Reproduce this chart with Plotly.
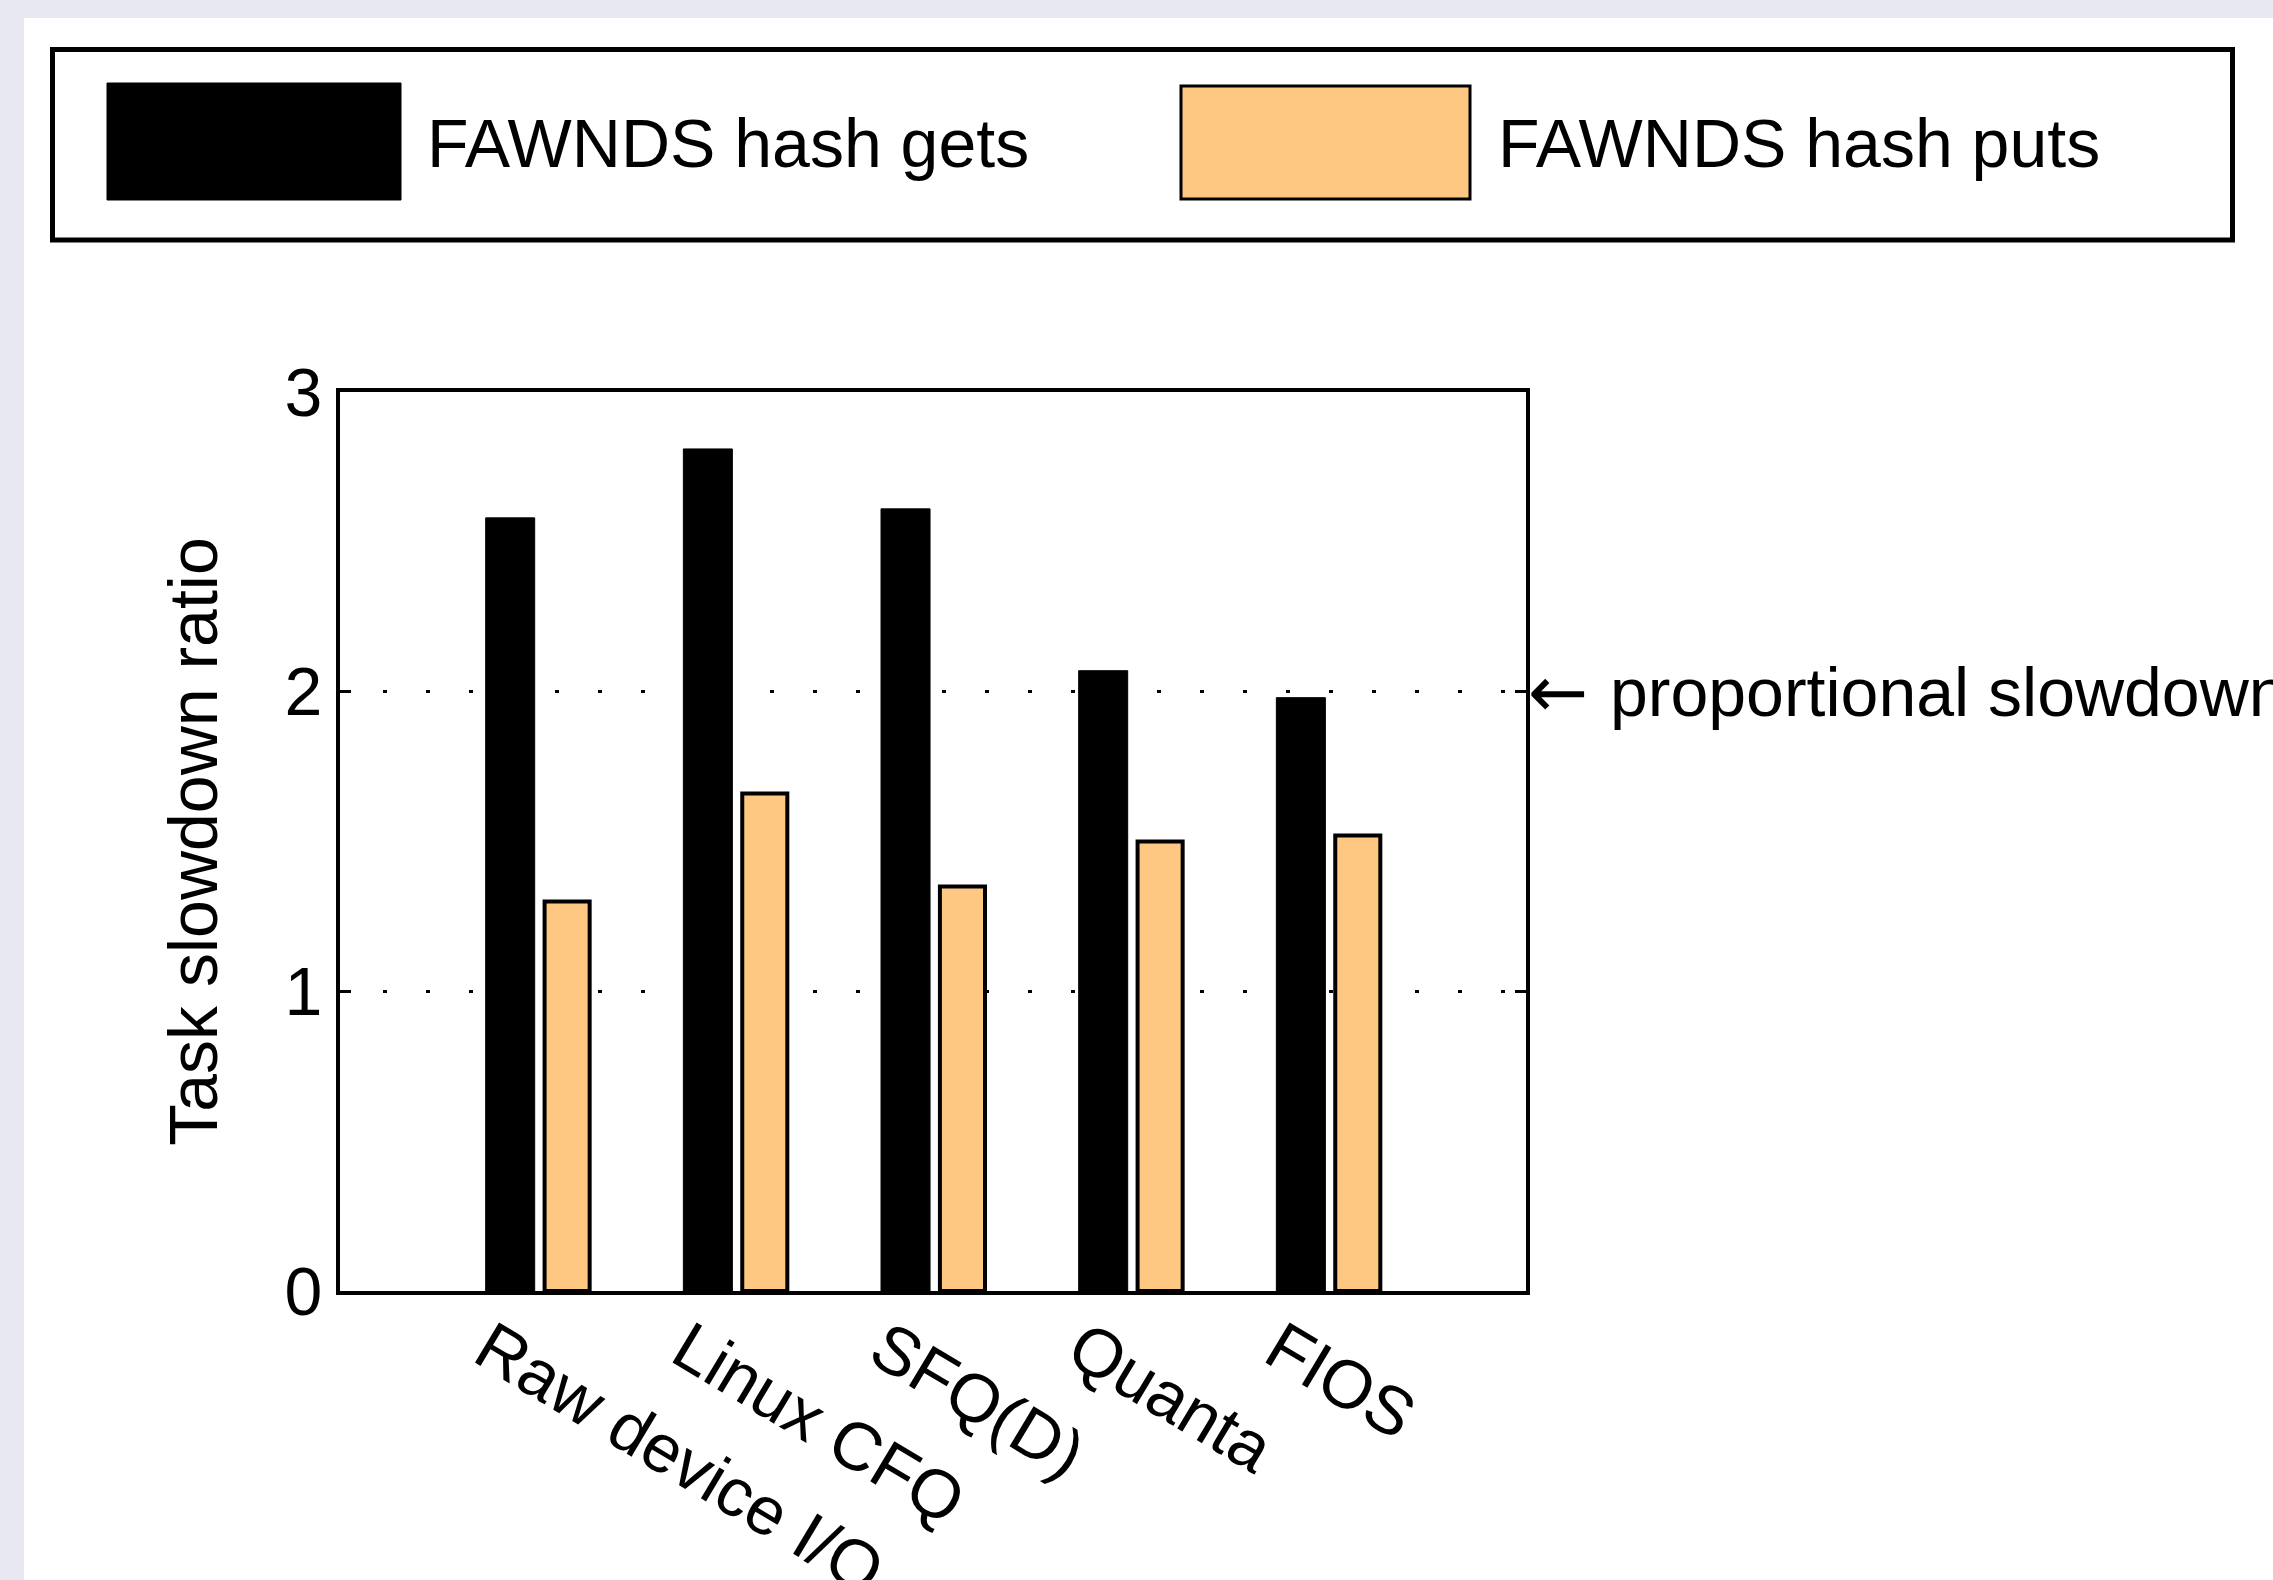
import plotly.graph_objects as go

categories = ["Raw device I/O", "Linux CFQ", "SFQ(D)", "Quanta", "FIOS"]
gets_values = [2.58, 2.81, 2.61, 2.07, 1.98]
puts_values = [1.30, 1.66, 1.35, 1.50, 1.52]
series_names = ["FAWNDS hash gets", "FAWNDS hash puts"]
y_ticks = [0, 1, 2, 3]
ref_label = "proportional slowdown"
ref_value = 2

FIG_W, FIG_H = 2273, 1580
L, R, T, B = 340, 1526, 392, 1291
W, H = R - L, B - T
FONT = "Liberation Sans, Arial, Helvetica, sans-serif"
FS = 68
ORANGE = "#FFC882"


def px(x):
    return (x - L) / W


def py(y):
    return (B - y) / H


xs = list(range(len(categories)))

fig = go.Figure()
fig.add_trace(go.Bar(
    x=xs, y=gets_values, name=series_names[0],
    width=0.248, offset=-0.263,
    marker=dict(color="black", line=dict(color="black", width=1)),
))
fig.add_trace(go.Bar(
    x=xs, y=puts_values, name=series_names[1],
    width=0.228, offset=0.035,
    marker=dict(color=ORANGE, line=dict(color="black", width=4)),
))

shapes = [
    dict(type="rect", xref="paper", yref="paper", layer="below",
         x0=px(24), x1=px(2400), y0=py(1700), y1=py(18),
         fillcolor="white", line=dict(width=0)),
    dict(type="rect", xref="paper", yref="paper",
         x0=px(52.5), x1=px(2232.5), y0=py(240), y1=py(49.5),
         line=dict(color="black", width=5)),
    dict(type="rect", xref="paper", yref="paper",
         x0=px(107), x1=px(401), y0=py(200), y1=py(83),
         fillcolor="black", line=dict(color="black", width=1)),
    dict(type="rect", xref="paper", yref="paper",
         x0=px(1181), x1=px(1470), y0=py(199), y1=py(86),
         fillcolor=ORANGE, line=dict(color="black", width=3)),
]

annotations = [
    dict(xref="paper", yref="paper", x=px(425), y=py(143),
         xanchor="left", yanchor="middle", showarrow=False,
         text=series_names[0], font=dict(size=FS, color="black", family=FONT)),
    dict(xref="paper", yref="paper", x=px(1496), y=py(143),
         xanchor="left", yanchor="middle", showarrow=False,
         text=series_names[1], font=dict(size=FS, color="black", family=FONT)),
    dict(xref="paper", yref="y", x=px(1526), y=ref_value,
         xanchor="left", yanchor="middle", showarrow=False,
         text="\u2190", font=dict(size=72, color="black", family="DejaVu Sans")),
    dict(xref="paper", yref="y", x=px(1608), y=ref_value,
         xanchor="left", yanchor="middle", showarrow=False,
         text=ref_label, font=dict(size=FS, color="black", family=FONT)),
]

fig.update_layout(
    width=FIG_W, height=FIG_H,
    margin=dict(l=L, r=FIG_W - R, t=T, b=FIG_H - B, pad=0, autoexpand=False),
    paper_bgcolor="#E8E8F3", plot_bgcolor="white",
    barmode="overlay", showlegend=False,
    font=dict(family=FONT, size=FS, color="black"),
    shapes=shapes, annotations=annotations,
    xaxis=dict(
        range=[-1, 5], tickvals=xs, ticktext=categories, tickangle=31,
        showline=True, linecolor="black", linewidth=4, mirror=True,
        ticks="", showgrid=False, zeroline=False,
        ticklabelshift=-50, ticklabelstandoff=-12,
        tickfont=dict(size=FS, family=FONT, color="black"),
    ),
    yaxis=dict(
        range=[0, 3], tickvals=y_ticks, ticktext=[str(v) for v in y_ticks],
        showline=True, linecolor="black", linewidth=4, mirror="ticks",
        ticks="inside", ticklen=11, tickwidth=3, tickcolor="black",
        showgrid=True, gridcolor="black", gridwidth=3, griddash="4px,39px",
        zeroline=False,
        tickfont=dict(size=FS, family=FONT, color="black"),
        title=dict(text="Task slowdown ratio", standoff=46,
                   font=dict(size=FS, family=FONT, color="black")),
    ),
)

fig.write_html(
    "out.html",
    config={"displayModeBar": False},
    post_script="document.body.style.margin='0';document.body.style.overflow='hidden';",
)
